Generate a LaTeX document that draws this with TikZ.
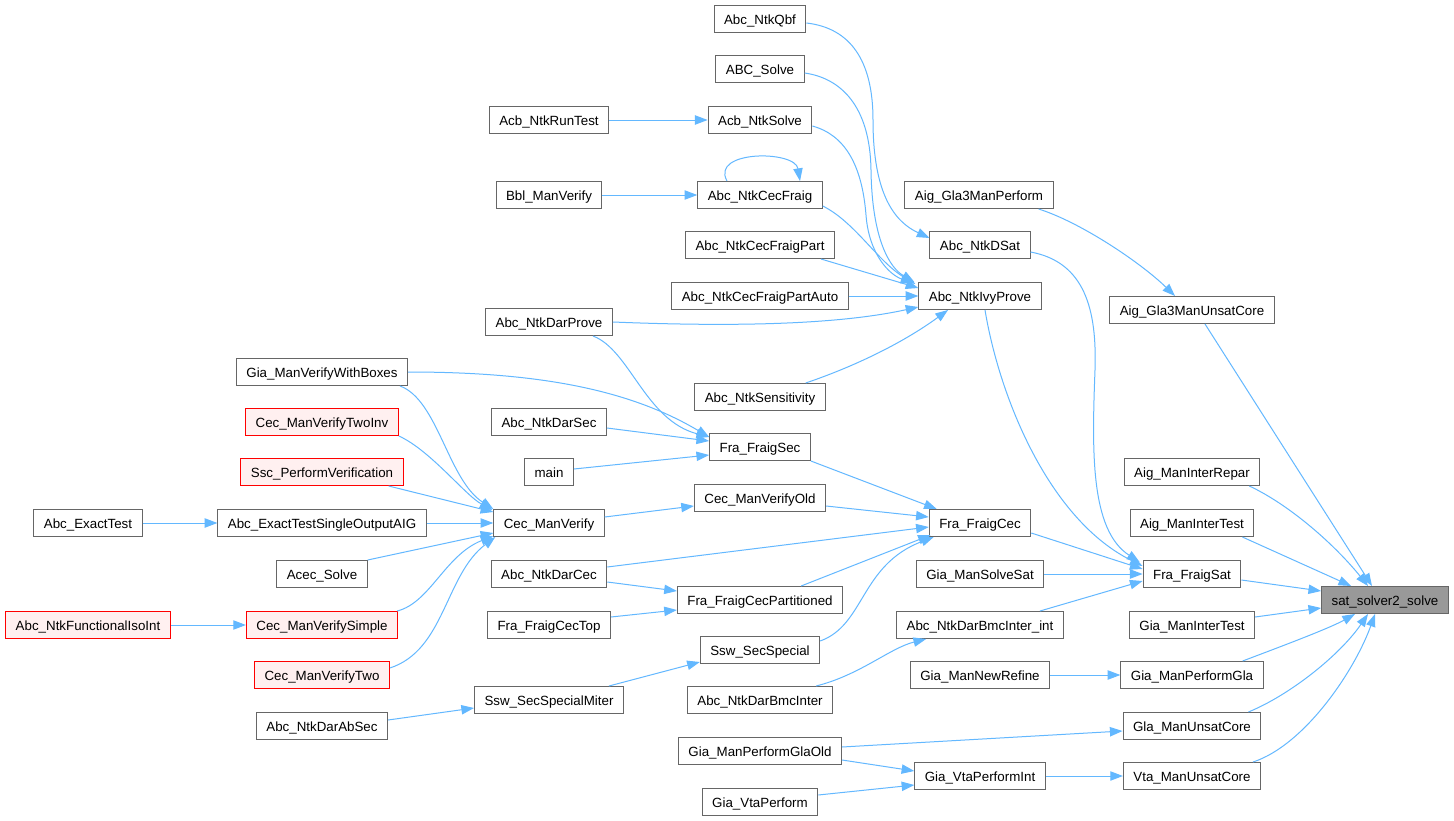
\documentclass[tikz,border=0pt]{standalone}
\usepackage{fontspec}
\setmainfont{Liberation Sans}
\usetikzlibrary{arrows.meta,calc}
\definecolor{edgecol}{HTML}{63B8FF}
\definecolor{boxline}{HTML}{666666}
\definecolor{redfill}{HTML}{FFF0F0}
\definecolor{rootfill}{HTML}{999999}
\begin{document}
\begin{tikzpicture}[x=0.75pt,y=-0.75pt,
  box/.style={draw=boxline, fill=white, line width=0.75pt, minimum height=20.25pt, text height=8.7pt, text depth=0pt, inner xsep=7.5pt, inner ysep=0pt, font=\fontsize{10pt}{12pt}\selectfont},
  redbox/.style={box, draw=red, fill=redfill},
  rootbox/.style={box, fill=rootfill},
  e/.style={draw=edgecol, line width=0.75pt, -{Triangle[length=9.5pt,width=7pt]}}]
\fill[white] (0,0) rectangle (1454,821);
\useasboundingbox (0,0) rectangle (1454,821);

\node[box] (qbf) at (760,19) {Abc\_NtkQbf};
\node[box] (abcsolve) at (760,69) {ABC\_Solve};
\node[box] (runtest) at (549,120) {Acb\_NtkRunTest};
\node[box] (acbsolve) at (760,120) {Acb\_NtkSolve};
\node[box] (bbl) at (549,195) {Bbl\_ManVerify};
\node[box] (cecfraig) at (760,195) {Abc\_NtkCecFraig};
\node[box] (gla3perf) at (979,195) {Aig\_Gla3ManPerform};
\node[box] (dsat) at (980,245) {Abc\_NtkDSat};
\node[box] (fpart) at (760,245) {Abc\_NtkCecFraigPart};
\node[box] (fpartauto) at (760,296) {Abc\_NtkCecFraigPartAuto};
\node[box] (ivy) at (980,296) {Abc\_NtkIvyProve};
\node[box] (gla3core) at (1192,310) {Aig\_Gla3ManUnsatCore};
\node[box] (darprove) at (549,322) {Abc\_NtkDarProve};
\node[box] (vwb) at (322,372) {Gia\_ManVerifyWithBoxes};
\node[box] (sens) at (760,397) {Abc\_NtkSensitivity};
\node[redbox] (twoinv) at (322,422) {Cec\_ManVerifyTwoInv};
\node[box] (darsec) at (549,422) {Abc\_NtkDarSec};
\node[box] (fsec) at (760,447) {Fra\_FraigSec};
\node[redbox] (sscpv) at (322,472) {Ssc\_PerformVerification};
\node[box] (main) at (549,472) {main};
\node[box] (interrepar) at (1192,472) {Aig\_ManInterRepar};
\node[box] (cecvold) at (760,498) {Cec\_ManVerifyOld};
\node[box] (exact) at (88,523) {Abc\_ExactTest};
\node[box] (exactsoa) at (322,523) {Abc\_ExactTestSingleOutputAIG};
\node[box] (cecv) at (549,523) {Cec\_ManVerify};
\node[box] (fcec) at (980,523) {Fra\_FraigCec};
\node[box] (aigintertest) at (1192,523) {Aig\_ManInterTest};
\node[box] (acec) at (322,574) {Acec\_Solve};
\node[box] (darcec) at (549,574) {Abc\_NtkDarCec};
\node[box] (solvesat) at (980,574) {Gia\_ManSolveSat};
\node[box] (fsat) at (1192,574) {Fra\_FraigSat};
\node[rootbox] (sat) at (1385,600) {sat\_solver2\_solve};
\node[box] (fcp) at (760,600) {Fra\_FraigCecPartitioned};
\node[redbox] (iso) at (88,625) {Abc\_NtkFunctionalIsoInt};
\node[redbox] (simple) at (322,625) {Cec\_ManVerifySimple};
\node[box] (fcectop) at (549,625) {Fra\_FraigCecTop};
\node[box] (bmcint) at (980,625) {Abc\_NtkDarBmcInter\_int};
\node[box] (giaintertest) at (1192,625) {Gia\_ManInterTest};
\node[box] (sswss) at (760,650) {Ssw\_SecSpecial};
\node[redbox] (two) at (322,675) {Cec\_ManVerifyTwo};
\node[box] (newrefine) at (980,675) {Gia\_ManNewRefine};
\node[box] (perfgla) at (1192,675) {Gia\_ManPerformGla};
\node[box] (ssmiter) at (549,700) {Ssw\_SecSpecialMiter};
\node[box] (bmc) at (760,700) {Abc\_NtkDarBmcInter};
\node[box] (darabsec) at (322,726) {Abc\_NtkDarAbSec};
\node[box] (glaunsat) at (1192,726) {Gla\_ManUnsatCore};
\node[box] (glaold) at (760,751) {Gia\_ManPerformGlaOld};
\node[box] (vtaint) at (980,776) {Gia\_VtaPerformInt};
\node[box] (vtaunsat) at (1192,776) {Vta\_ManUnsatCore};
\node[box] (vtaperf) at (760,802) {Gia\_VtaPerform};

% top cluster into Abc_NtkIvyProve / Abc_NtkDSat
\draw[e] ($(qbf.east)+(0,4)$) .. controls (850,28) and (873,60) .. (873,120) .. controls (873,195) and (895,222) .. ($(dsat.west)+(0,-7)$);
\draw[e] ($(abcsolve.east)+(0,4)$) .. controls (840,78) and (870,105) .. (871,170) .. controls (872,240) and (890,268) .. ($(ivy.north west)+(-4,0)$);
\draw[e] ($(acbsolve.east)+(0,6)$) .. controls (845,135) and (862,165) .. (866,215) .. controls (869,255) and (890,275) .. ($(ivy.north west)+(-5,1)$);
\draw[e] ($(cecfraig.east)+(0,11)$) .. controls (855,222) and (878,262) .. ($(ivy.north west)+(-3,2)$);
\draw[e] ($(fpart.south east)+(-14,0)$) -- ($(ivy.west)+(0,-8)$);
\draw[e] (fpartauto.east) -- (ivy.west);
\draw[e] (darprove.east) .. controls (760,328) and (850,322) .. ($(ivy.west)+(0,11)$);
\draw[e] ($(sens.north east)+(-20,0)$) .. controls (850,368) and (900,345) .. ($(ivy.south)+(-32,0)$);
\draw[e] (runtest.east) -- (acbsolve.west);
\draw[e] (bbl.east) -- (cecfraig.west);
\draw[e] ($(cecfraig.north)+(-33,0)$) .. controls (710,150) and (795,150) .. ($(cecfraig.north)+(40,0)$);

% into Aig_Gla3ManUnsatCore and Fra_FraigSat
\draw[e] ($(gla3perf.south east)+(-15,0)$) .. controls (1080,222) and (1140,262) .. ($(gla3core.north)+(-17,0)$);
\draw[e] ($(dsat.east)+(0,7)$) .. controls (1085,262) and (1097,310) .. (1095,370) .. controls (1092,450) and (1090,530) .. ($(fsat.north west)+(-3,2)$);
\draw[e] ($(ivy.south)+(5,0)$) .. controls (1000,400) and (1050,520) .. ($(fsat.west)+(0,-8)$);
\draw[e] ($(fcec.east)+(0,10)$) -- ($(fsat.west)+(0,-5)$);
\draw[e] (solvesat.east) -- (fsat.west);
\draw[e] ($(bmcint.north)+(60,0)$) -- ($(fsat.west)+(0,7)$);

% into sat_solver2_solve
\draw[e] ($(gla3core.south)+(13,0)$) -- ($(sat.north)+(-13,0)$);
\draw[e] ($(interrepar.south east)+(-11,0)$) .. controls (1290,505) and (1335,545) .. ($(sat.north)+(-17,0)$);
\draw[e] ($(aigintertest.south east)+(-12,0)$) -- ($(sat.north west)+(30,0)$);
\draw[e] ($(fsat.east)+(0,6)$) -- ($(sat.west)+(0,-9)$);
\draw[e] ($(giaintertest.east)+(0,-8)$) -- ($(sat.west)+(0,8)$);
\draw[e] ($(perfgla.north east)+(-21,0)$) .. controls (1285,645) and (1330,628) .. ($(sat.south)+(-30,0)$);
\draw[e] ($(glaunsat.north east)+(-13,0)$) .. controls (1290,695) and (1340,655) .. ($(sat.south)+(-17,0)$);
\draw[e] ($(vtaunsat.north east)+(-8,0)$) .. controls (1305,745) and (1355,670) .. ($(sat.south)+(-10,0)$);

% left part
\draw[e] (vwb.east) .. controls (540,372) and (630,390) .. ($(fsec.west)+(0,-10)$);
\draw[e] ($(vwb.south east)+(-8,0)$) .. controls (438,400) and (448,480) .. ($(cecv.north west)+(0,0)$);
\draw[e] (twoinv.south east) .. controls (430,450) and (465,495) .. ($(cecv.north west)+(-1,1)$);
\draw[e] ($(sscpv.south east)+(-15,0)$) -- ($(cecv.west)+(0,-11)$);
\draw[e] (exactsoa.east) -- (cecv.west);
\draw[e] (acec.north east) -- ($(cecv.west)+(0,10)$);
\draw[e] ($(simple.north east)+(-1,0)$) .. controls (430,603) and (445,555) .. ($(cecv.south west)+(0,-1)$);
\draw[e] ($(two.east)+(0,-7)$) .. controls (445,650) and (445,575) .. ($(cecv.south west)+(2,0)$);
\draw[e] (iso.east) -- (simple.west);
\draw[e] (exact.east) -- (exactsoa.west);
\draw[e] ($(darsec.east)+(0,6)$) -- ($(fsec.west)+(0,-6)$);
\draw[e] ($(main.east)+(0,-3)$) -- ($(fsec.west)+(0,8)$);
\draw[e] ($(darprove.south)+(44,0)$) .. controls (630,350) and (645,420) .. ($(fsec.west)+(0,-10)$);
\draw[e] ($(cecv.east)+(0,-6)$) -- ($(cecvold.west)+(0,8)$);

% into Fra_FraigCec
\draw[e] (fsec.south east) -- ($(fcec.north west)+(8,0)$);
\draw[e] ($(cecvold.east)+(0,8)$) -- ($(fcec.west)+(0,-6)$);
\draw[e] ($(darcec.east)+(0,-7)$) -- ($(fcec.west)+(0,4)$);
\draw[e] ($(darcec.east)+(0,8)$) -- ($(fcp.west)+(0,-9)$);
\draw[e] ($(fcectop.east)+(0,-8)$) -- ($(fcp.west)+(0,10)$);
\draw[e] ($(fcp.north east)+(-42,0)$) -- ($(fcec.south west)+(2,-2)$);
\draw[e] ($(sswss.east)+(0,-9)$) .. controls (865,625) and (860,565) .. ($(fcec.south west)+(5,0)$);
\draw[e] ($(ssmiter.north east)+(-15,0)$) -- ($(sswss.west)+(0,12)$);
\draw[e] ($(darabsec.east)+(0,-6)$) -- ($(ssmiter.west)+(0,8)$);
\draw[e] ($(bmc.north east)+(-17,0)$) .. controls (860,675) and (890,648) .. ($(bmcint.south west)+(30,0)$);

% bottom
\draw[e] (newrefine.east) -- (perfgla.west);
\draw[e] ($(glaold.east)+(0,-4)$) -- ($(glaunsat.west)+(0,5)$);
\draw[e] ($(glaold.east)+(0,9)$) -- ($(vtaint.west)+(0,-5)$);
\draw[e] ($(vtaperf.east)+(0,-7)$) -- ($(vtaint.west)+(0,9)$);
\draw[e] (vtaint.east) -- (vtaunsat.west);
\end{tikzpicture}
\end{document}
